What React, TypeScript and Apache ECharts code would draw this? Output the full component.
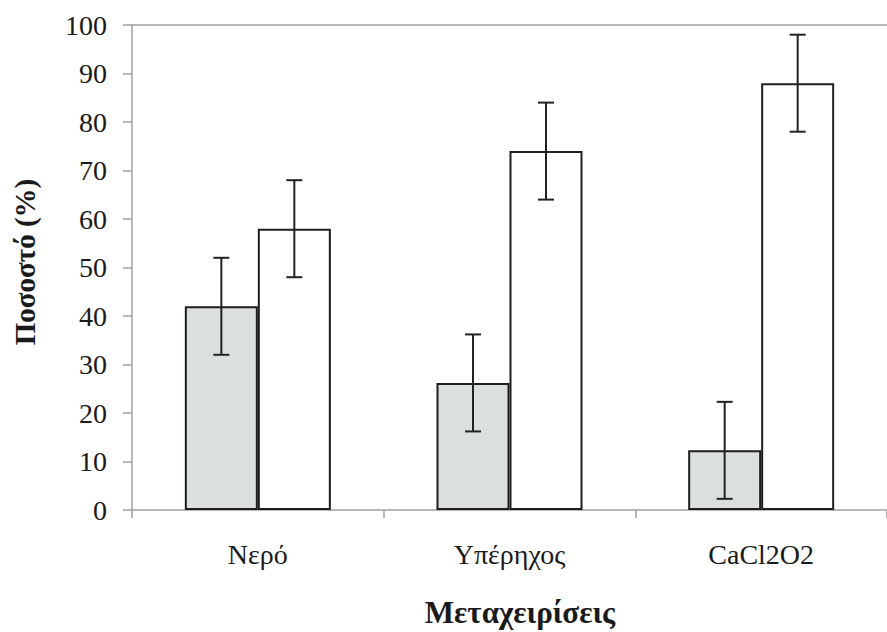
import React, { useEffect, useRef } from "react";
import * as echarts from "echarts";

const categories = ["Νερό", "Υπέρηχος", "CaCl2O2"];
const greyValues = [42, 26.2, 12.3];
const whiteValues = [58, 74, 88];
const greyErrors = [10, 10, 10];
const whiteErrors = [10, 10, 10];
const yMin = 0;
const yMax = 100;
const yInterval = 10;
const yTitle = "Ποσοστό (%)";
const xTitle = "Μεταχειρίσεις";

const BAR_W = 73;
const SERIF = "Liberation Serif";

export default function App() {
  const ref = useRef<HTMLDivElement>(null);
  useEffect(() => {
    if (!ref.current) return;
    const chart = echarts.init(ref.current, undefined, { renderer: "svg" });
    const errData: number[][] = [];
    categories.forEach((_, i) => {
      errData.push([i, greyValues[i] - greyErrors[i], greyValues[i] + greyErrors[i], -1]);
      errData.push([i, whiteValues[i] - whiteErrors[i], whiteValues[i] + whiteErrors[i], 1]);
    });
    chart.setOption({
      animation: false,
      backgroundColor: "#ffffff",
      grid: { left: 132, top: 25, bottom: 122, width: 762, containLabel: false },
      xAxis: [
        {
          type: "category",
          data: categories,
          position: "bottom",
          axisLine: { show: true, lineStyle: { color: "#a0a0a0", width: 1.5 } },
          axisTick: { show: true, alignWithLabel: false, length: 8, lineStyle: { color: "#a0a0a0", width: 1.5 } },
          axisLabel: { color: "#1a1a1a", fontFamily: SERIF, fontSize: 28, margin: 30 },
          splitLine: { show: false },
        },
        {
          type: "category",
          data: categories,
          position: "top",
          axisLine: { show: true, lineStyle: { color: "#a0a0a0", width: 1.5 } },
          axisTick: { show: false },
          axisLabel: { show: false },
        },
      ],
      yAxis: {
        type: "value",
        min: yMin,
        max: yMax,
        interval: yInterval,
        axisLine: { show: true, lineStyle: { color: "#a0a0a0", width: 1.5 } },
        axisTick: { show: true, length: 9, lineStyle: { color: "#a0a0a0", width: 1.5 } },
        axisLabel: { color: "#1a1a1a", fontFamily: SERIF, fontSize: 28, margin: 25 },
        splitLine: { show: false },
      },
      series: [
        {
          type: "bar",
          data: greyValues,
          barWidth: BAR_W,
          barGap: "0%",
          itemStyle: { color: "#dcdfdf", borderColor: "#1e1e1e", borderWidth: 2 },
        },
        {
          type: "bar",
          data: whiteValues,
          barWidth: BAR_W,
          barGap: "0%",
          itemStyle: { color: "#ffffff", borderColor: "#1e1e1e", borderWidth: 2 },
        },
        {
          type: "custom",
          data: errData,
          encode: { x: 0, y: [1, 2] },
          z: 5,
          renderItem: (params: any, api: any) => {
            const cat = api.value(0);
            const lo = api.value(1);
            const hi = api.value(2);
            const side = api.value(3);
            const pLo = api.coord([cat, lo]);
            const pHi = api.coord([cat, hi]);
            const x = pLo[0] + (side * BAR_W) / 2;
            const cap = 8;
            const st = { stroke: "#222222", lineWidth: 2 };
            return {
              type: "group",
              children: [
                { type: "line", shape: { x1: x, y1: pHi[1], x2: x, y2: pLo[1] }, style: st },
                { type: "line", shape: { x1: x - cap, y1: pHi[1], x2: x + cap, y2: pHi[1] }, style: st },
                { type: "line", shape: { x1: x - cap, y1: pLo[1], x2: x + cap, y2: pLo[1] }, style: st },
              ],
            };
          },
        },
      ],
      graphic: [
        {
          type: "text",
          x: 25,
          y: 262,
          rotation: Math.PI / 2,
          style: {
            text: yTitle,
            fill: "#1a1a1a",
            font: "bold 29px Liberation Serif",
            align: "center",
            verticalAlign: "middle",
          },
        },
        {
          type: "text",
          x: 520,
          y: 612,
          style: {
            text: xTitle,
            fill: "#1a1a1a",
            font: "bold 31px Liberation Serif",
            align: "center",
            verticalAlign: "middle",
          },
        },
      ],
    });
    return () => chart.dispose();
  }, []);
  return (
    <div
      ref={ref}
      style={{ position: "fixed", left: 0, top: 0, width: 887, height: 632, background: "#fff" }}
    />
  );
}
